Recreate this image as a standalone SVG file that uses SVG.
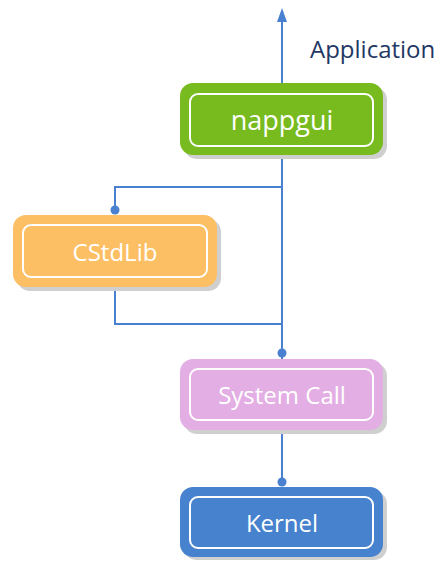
<svg xmlns="http://www.w3.org/2000/svg" width="441" height="561" viewBox="0 0 441 561">
<style>
.shadow{fill:#cfcfcf}
.inner{fill:none;stroke:#fff;stroke-width:2}
.lbl{font-family:"Open Sans","DejaVu Sans",sans-serif;font-size:24px;fill:#fff;text-anchor:middle}
.ln{fill:none;stroke:#4a80d0;stroke-width:2}
.dot{fill:#4a80d0}
</style>
<g id="connectors">
<path class="ln" d="M282,83 L282,20"/>
<path d="M277,22 L282,8 L287,22 Z" fill="#4a80d0"/>
<path class="ln" d="M282,155 L282,359"/>
<path class="ln" d="M282,187 L115,187 L115,210"/>
<circle class="dot" cx="115" cy="210" r="4.5"/>
<path class="ln" d="M115,287 L115,324 L282,324"/>
<circle class="dot" cx="282" cy="353" r="4.5"/>
<path class="ln" d="M282,430 L282,482"/>
<circle class="dot" cx="282" cy="482" r="4.5"/>
</g>
<text x="310" y="58" font-family="'Open Sans','DejaVu Sans',sans-serif" font-size="24" fill="#1f3864">Application</text>
<g id="nappgui">
<rect class="shadow" x="184" y="87" width="203" height="72" rx="13"/>
<rect x="180" y="83" width="203" height="72" rx="13" fill="#77bb1f"/>
<rect class="inner" x="190" y="94" width="183" height="52" rx="8"/>
<text class="lbl" x="282" y="130" style="font-size:27px">nappgui</text>
</g>
<g id="cstdlib">
<rect class="shadow" x="17" y="219" width="204" height="72" rx="13"/>
<rect x="13" y="215" width="204" height="72" rx="13" fill="#fdbf64"/>
<rect class="inner" x="23" y="225" width="184" height="52" rx="8"/>
<text class="lbl" x="115" y="261">CStdLib</text>
</g>
<g id="systemcall">
<rect class="shadow" x="184" y="363" width="203" height="71" rx="13"/>
<rect x="180" y="359" width="203" height="71" rx="13" fill="#e3aee3"/>
<rect class="inner" x="190" y="369" width="183" height="51" rx="8"/>
<text class="lbl" x="282" y="404">System Call</text>
</g>
<g id="kernel">
<rect class="shadow" x="184" y="491" width="203" height="69" rx="13"/>
<rect x="180" y="487" width="203" height="70" rx="13" fill="#4682ce"/>
<rect class="inner" x="190" y="497" width="183" height="51" rx="8"/>
<text class="lbl" x="282" y="532">Kernel</text>
</g>
</svg>
